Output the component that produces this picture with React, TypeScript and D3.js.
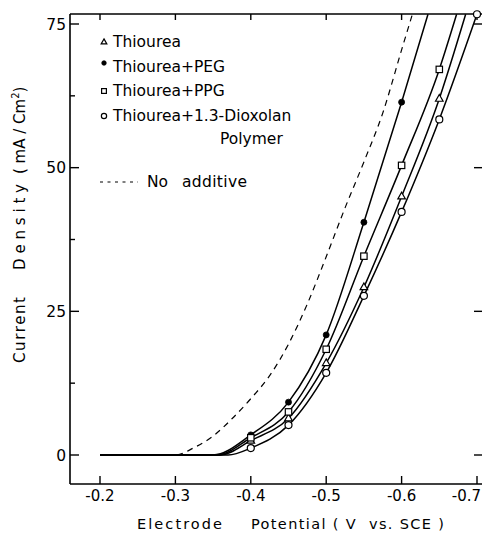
import React from "react";
import * as d3 from "d3";

// ---- data ----
const potentialTicks = [-0.2, -0.3, -0.4, -0.5, -0.6, -0.7];
const potentialTickLabels = ["-0.2", "-0.3", "-0.4", "-0.5", "-0.6", "-0.7"];
const currentTicks = [0, 25, 50, 75];
const currentTickLabels = ["0", "25", "50", "75"];
const currentMinorTicks = [12.5, 37.5, 62.5];

const markerPotentials = [-0.4, -0.45, -0.5, -0.55, -0.6, -0.65, -0.7];
const thioureaValues = [2.5, 6.4, 16.0, 29.2, 45.0, 62.0, null];
const pegValues = [3.5, 9.2, 20.9, 40.5, 61.4, null, null];
const ppgValues = [3.0, 7.5, 18.4, 34.6, 50.4, 67.1, null];
const dioxolanValues = [1.2, 5.2, 14.3, 27.7, 42.3, 58.4, 76.7];

const seriesNames = ["Thiourea", "Thiourea+PEG", "Thiourea+PPG", "Thiourea+1.3-Dioxolan"];
const seriesMarkers = ["triangle", "dot", "square", "circle"];
const baselineStart = -0.2;
const onsetPotentials = [-0.36, -0.35, -0.355, -0.37];
const exitPotentials = [-0.685, -0.635, -0.673, null];
const exitValue = 76.7;

const noAdditivePotentials = [-0.2, -0.3, -0.325, -0.35, -0.375, -0.4, -0.425, -0.45, -0.475, -0.5, -0.525, -0.55, -0.575, -0.6, -0.615];
const noAdditiveValues = [0, 0, 1.3, 3.3, 6.3, 9.8, 13.8, 19.3, 26.3, 34.5, 43, 51, 59.5, 70.5, 77];

const allValues = [thioureaValues, pegValues, ppgValues, dioxolanValues];

// ---- layout ----
const W = 482;
const H = 535;
const left = 70;
const right = 482;
const top = 14;
const bottom = 484;

const x = d3.scaleLinear().domain([-0.2, -0.7]).range([100, 477]);
const y = d3.scaleLinear().domain([0, 75]).range([455, 24]);

const FONT = "DejaVu Sans, sans-serif";

function Marker({ kind, cx, cy, s = 1 }: { kind: string; cx: number; cy: number; s?: number }) {
  if (kind === "triangle") {
    const r = 4.2 * s;
    const p = `M${cx},${cy - r}L${cx + r * 0.9},${cy + r * 0.6}L${cx - r * 0.9},${cy + r * 0.6}Z`;
    return <path d={p} fill="#fff" stroke="#000" strokeWidth={1.2} />;
  }
  if (kind === "dot") {
    return <circle cx={cx} cy={cy} r={3 * s} fill="#000" stroke="#000" strokeWidth={0.8} />;
  }
  if (kind === "square") {
    const h = 3.2 * s;
    return <rect x={cx - h} y={cy - h} width={2 * h} height={2 * h} fill="#fff" stroke="#000" strokeWidth={1.2} />;
  }
  return <circle cx={cx} cy={cy} r={3.5 * s} fill="#fff" stroke="#000" strokeWidth={1.2} />;
}

export default function App() {
  const line = d3
    .line<[number, number]>()
    .x((d) => x(d[0]))
    .y((d) => y(d[1]))
    .curve(d3.curveMonotoneX);

  const seriesLines = allValues.map((vals, i) => {
    const pts: [number, number][] = [
      [baselineStart, 0],
      [onsetPotentials[i], 0],
    ];
    markerPotentials.forEach((p, j) => {
      const v = vals[j];
      if (v !== null) pts.push([p, v]);
    });
    const ex = exitPotentials[i];
    if (ex !== null) pts.push([ex, exitValue]);
    return line(pts) || "";
  });

  const dashed =
    line(noAdditivePotentials.map((p, i) => [p, noAdditiveValues[i]] as [number, number])) || "";

  const legendRows = [47, 72, 96, 121];
  const lastTick = potentialTicks.length - 1;

  return (
    <svg width={W} height={H} style={{ position: "absolute", left: 0, top: 0, background: "#fff" }}>
      <defs>
        <clipPath id="plot">
          <rect x={left} y={top} width={right - left} height={bottom - top} />
        </clipPath>
      </defs>
      <rect x={0} y={0} width={W} height={H} fill="#fff" />

      {/* frame */}
      <g stroke="#000" strokeWidth={1.6} fill="none">
        <line x1={left} y1={top} x2={left} y2={bottom} />
        <line x1={left} y1={bottom} x2={right} y2={bottom} />
        <line x1={left} y1={top} x2={right} y2={top} />
      </g>

      {/* ticks */}
      <g stroke="#000" strokeWidth={1.4}>
        {potentialTicks.map((t) => (
          <line key={"b" + t} x1={x(t)} x2={x(t)} y1={bottom} y2={bottom - 8} />
        ))}
        {potentialTicks.map((t) => (
          <line key={"t" + t} x1={x(t)} x2={x(t)} y1={top} y2={top + 6} />
        ))}
        {currentTicks.map((t) => (
          <line key={"l" + t} x1={left} x2={left + 9} y1={y(t)} y2={y(t)} />
        ))}
        {currentMinorTicks.map((t) => (
          <line key={"m" + t} x1={left} x2={left + 5} y1={y(t)} y2={y(t)} />
        ))}
        {currentTicks.map((t) => (
          <line key={"r" + t} x1={right - 8} x2={right} y1={y(t)} y2={y(t)} />
        ))}
      </g>

      {/* tick labels */}
      <g fontFamily={FONT} fontSize={15} fill="#000">
        {potentialTicks.map((t, i) => (
          <text
            key={t}
            x={i === lastTick ? 481 : x(t)}
            y={501}
            textAnchor={i === lastTick ? "end" : "middle"}
          >
            {potentialTickLabels[i]}
          </text>
        ))}
        {currentTicks.map((t, i) => (
          <text key={t} x={66} y={y(t) + 5.5} textAnchor="end" fontSize={15.5}>
            {currentTickLabels[i]}
          </text>
        ))}
      </g>

      {/* axis labels */}
      <g fontFamily={FONT} fontSize={14.5} fill="#000">
        <text x={137} y={529} textLength={85} lengthAdjust="spacing">
          Electrode
        </text>
        <text x={251} y={529} textLength={193} lengthAdjust="spacing" style={{ whiteSpace: "pre" }}>
          {"Potential ( V  vs. SCE )"}
        </text>
        <g transform="rotate(-90)" fontSize={15}>
          <text x={-363} y={25} textLength={66} lengthAdjust="spacing">
            Current
          </text>
          <text x={-270} y={25} textLength={86} lengthAdjust="spacing">
            Density
          </text>
          <text x={-174} y={25} style={{ whiteSpace: "pre" }}>
            {"( mA / Cm"}
            <tspan dy={-6} fontSize={10}>
              2
            </tspan>
            <tspan dy={6}>)</tspan>
          </text>
        </g>
      </g>

      {/* curves */}
      <g clipPath="url(#plot)" fill="none" stroke="#000">
        <path d={dashed} strokeWidth={1.2} strokeDasharray="6,5" />
        {seriesLines.map((d, i) => (
          <path key={i} d={d} strokeWidth={1.5} />
        ))}
      </g>

      {/* markers */}
      <g>
        {allValues.map((vals, i) =>
          markerPotentials.map((p, j) => {
            const v = vals[j];
            if (v === null) return null;
            return <Marker key={i + "-" + j} kind={seriesMarkers[i]} cx={x(p)} cy={y(v)} />;
          })
        )}
      </g>

      {/* legend */}
      <g fontFamily={FONT} fontSize={15.5} fill="#000">
        {seriesNames.map((n, i) => (
          <g key={n}>
            <Marker kind={seriesMarkers[i]} cx={104} cy={legendRows[i] - (i === 1 ? 9 : 5)} s={0.75} />
            <text x={113} y={legendRows[i]}>
              {n}
            </text>
          </g>
        ))}
        <text x={220} y={144}>
          Polymer
        </text>
        <line x1={100} x2={138} y1={182} y2={182} stroke="#000" strokeWidth={1.2} strokeDasharray="3,4.5" />
        <text x={147} y={187}>
          No
        </text>
        <text x={182} y={187} textLength={65} lengthAdjust="spacing">
          additive
        </text>
      </g>
    </svg>
  );
}
